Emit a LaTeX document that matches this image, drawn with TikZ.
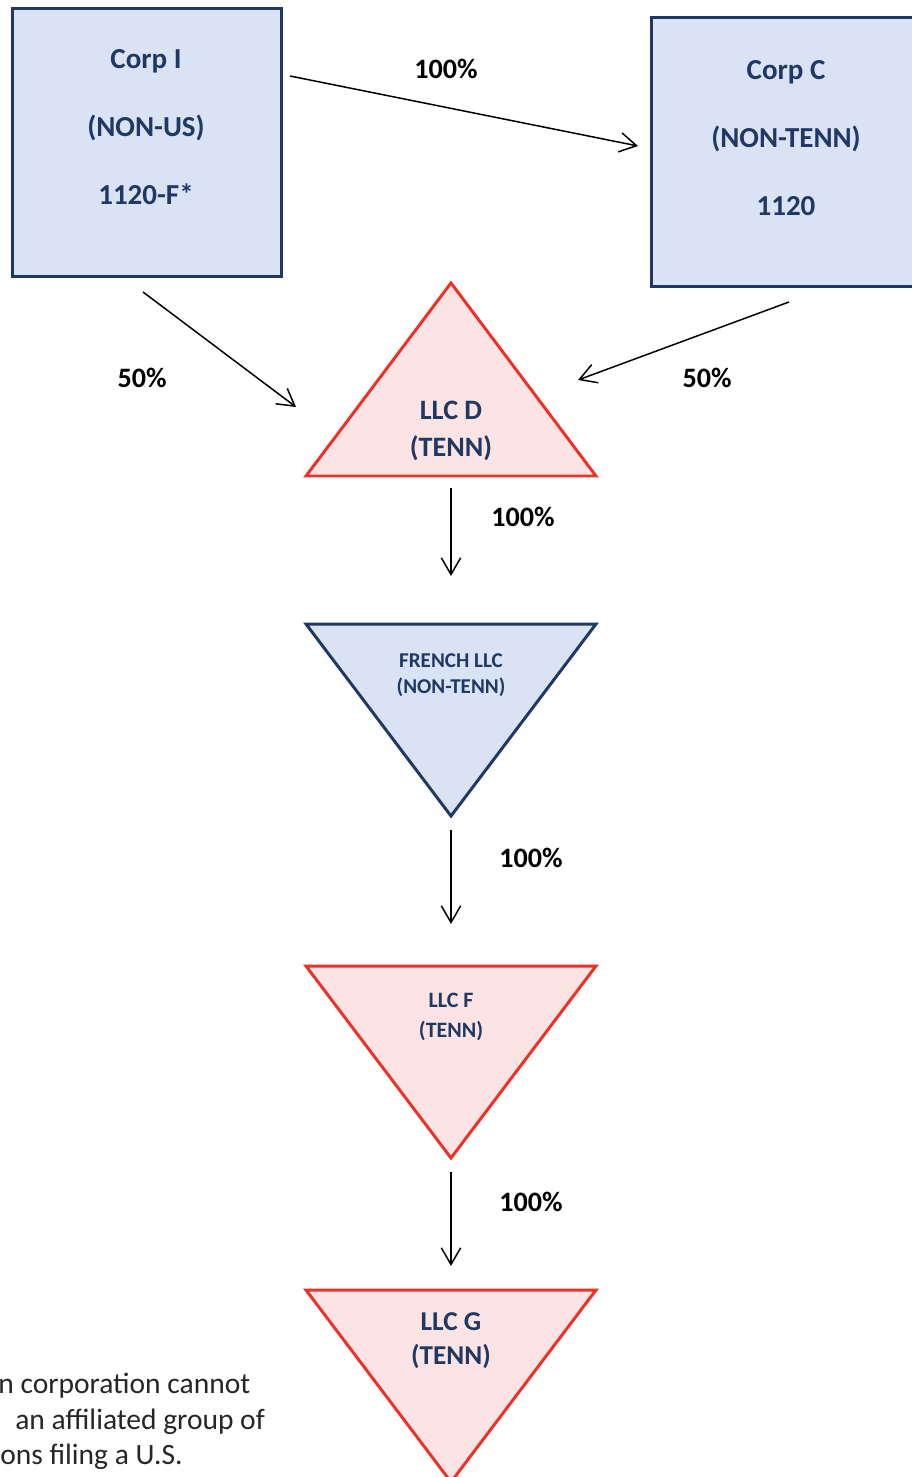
\documentclass[tikz,border=0pt]{standalone}
\usepackage{fontspec}
\setmainfont{Carlito}
\usetikzlibrary{arrows.meta}
\definecolor{navy}{RGB}{31,56,100}
\definecolor{boxblue}{RGB}{218,227,243}
\definecolor{tennred}{RGB}{236,50,40}
\definecolor{tennpink}{RGB}{252,228,228}
\begin{document}
\begin{tikzpicture}[x=0.02cm,y=-0.02cm,
    corpbox/.style={draw=navy,line width=1.7pt,fill=boxblue,minimum width=5.4cm,minimum height=5.38cm,inner sep=0pt},
    bluetri/.style={draw=navy,line width=1.7pt,fill=boxblue,line join=miter},
    redtri/.style={draw=tennred,line width=1.7pt,fill=tennpink,line join=miter},
    lbl/.style={text=navy,font=\bfseries,align=center,inner sep=0pt},
    pct/.style={font=\fontsize{16}{19}\selectfont\bfseries,inner sep=0pt},
    note/.style={anchor=west,inner sep=0pt,font=\fontsize{16.8}{19}\selectfont,text=black!85},
    own/.style={-{Straight Barb[length=9.5pt,width=11pt]},line width=0.85pt}]
                    \useasboundingbox (0,0) rectangle (912,1477);
                    % corporations
                    \node[corpbox] (corpI) at (147,142.5) {};
                    \node[corpbox] (corpC) at (786,152) {};
                    \node[lbl,font=\fontsize{16.5}{38.6}\selectfont\bfseries] (corpItxt) at (146,127) {Corp I\\(NON-US)\\1120-F*};
                    \node[lbl,font=\fontsize{16.5}{38.6}\selectfont\bfseries] (corpCtxt) at (786,138) {Corp C\\(NON-TENN)\\1120};
                    % llcs
                    \draw[redtri] (451,283) -- (596,476) -- (306,476) -- cycle;
                    \draw[bluetri] (306,624) -- (596,624) -- (451,816) -- cycle;
                    \draw[redtri] (306,966) -- (596,966) -- (451,1158) -- cycle;
                    \draw[redtri] (306,1290) -- (596,1290) -- (451,1482) -- cycle;
                    \node[lbl,font=\fontsize{16}{21}\selectfont\bfseries] (llcD) at (451,431) {LLC D\\(TENN)};
                    \node[lbl,font=\fontsize{12}{14.7}\selectfont\bfseries] (french) at (451,675) {FRENCH LLC\\(NON-TENN)};
                    \node[lbl,font=\fontsize{12.5}{17}\selectfont\bfseries] (llcF) at (451,1017) {LLC F\\(TENN)};
                    \node[lbl,font=\fontsize{15.5}{19.3}\selectfont\bfseries] (llcG) at (451,1341) {LLC G\\(TENN)};
                    % arrow ends
                    \coordinate (IC1) at (290,76);
                    \coordinate (IC2) at (638,146);
                    \coordinate (ID1) at (143,292);
                    \coordinate (ID2) at (296,407);
                    \coordinate (CD1) at (789,302);
                    \coordinate (CD2) at (578,380);
                    \coordinate (DF1) at (451,488);
                    \coordinate (DF2) at (451,576);
                    \coordinate (FR1) at (451,830);
                    \coordinate (FR2) at (451,924);
                    \coordinate (FG1) at (451,1172);
                    \coordinate (FG2) at (451,1266);
                    \draw[own] (IC1) -- (IC2);
                    \draw[own] (ID1) -- (ID2);
                    \draw[own] (CD1) -- (CD2);
                    \draw[own] (DF1) -- (DF2);
                    \draw[own] (FR1) -- (FR2);
                    \draw[own] (FG1) -- (FG2);
                    \node[pct] (pIC) at (446,69) {100\%};
                    \node[pct] (pID) at (142,378) {50\%};
                    \node[pct] (pCD) at (707,378) {50\%};
                    \node[pct] (pDF) at (523,517) {100\%};
                    \node[pct] (pFR) at (531,858) {100\%};
                    \node[pct] (pFG) at (531,1202) {100\%};
                    % footnote
                    \node[note] (note1) at (-2,1386) {n corporation cannot};
                    \node[note] (note2) at (15,1422) {an affiliated group of};
                    \node[note] (note3) at (0,1457) {ons filing a U.S.};
                \end{tikzpicture}
\end{document}
